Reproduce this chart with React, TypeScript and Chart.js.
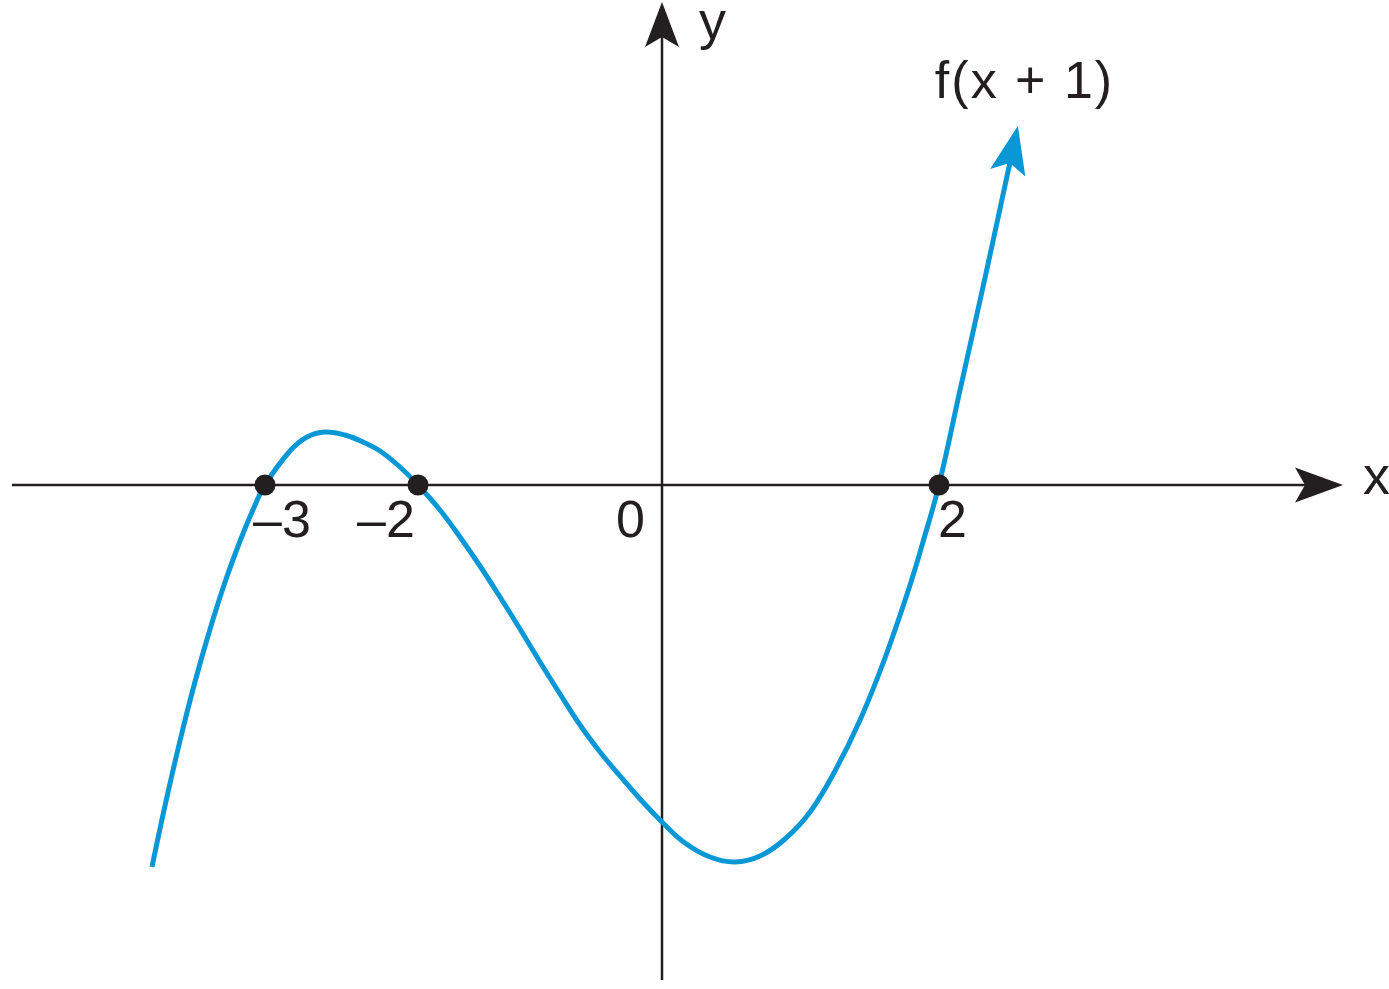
import React, { useEffect, useRef } from 'react';
import { Chart, LinearScale, registerables } from 'chart.js';

// ---------------- data ----------------
const CURVE_X = [
  -3.739, -3.654, -3.556, -3.458, -3.359, -3.261, -3.163, -3.085, -3.0,
  -2.837, -2.725, -2.608, -2.477, -2.346, -2.248, -2.118, -2.0,
  -1.82, -1.656, -1.492, -1.328, -1.164, -1.0, -0.836, -0.672, -0.508, -0.344, -0.18, 0.0,
  0.166, 0.347, 0.527, 0.708, 0.888, 1.069, 1.249, 1.43, 1.61, 1.791, 1.899, 2.0,
  2.152, 2.332, 2.513,
];
const CURVE_Y = [
  -3.82, -3.21, -2.56, -1.97, -1.44, -0.97, -0.56, -0.27, 0,
  0.34, 0.48, 0.53, 0.5, 0.42, 0.34, 0.18, 0,
  -0.25, -0.52, -0.81, -1.12, -1.44, -1.77, -2.09, -2.4, -2.67, -2.91, -3.14, -3.37,
  -3.58, -3.72, -3.77, -3.71, -3.54, -3.27, -2.86, -2.35, -1.73, -1.0, -0.5, 0,
  0.95, 2.07, 3.23,
];
const ROOTS_X = [-3, -2, 2];
const ROOTS_Y = [0, 0, 0];
const TICK_VALUES = [-3, -2, 0, 2];
const TICK_LABELS = ['–3', '–2', '0', '2'];
const CURVE_LABEL = 'f(x + 1)';
const X_AXIS_TITLE = 'x';
const Y_AXIS_TITLE = 'y';
const X_AXIS_EXTENT = [-4.654, 4.917];
const Y_AXIS_EXTENT = [-4.95, 4.83];

// ---------------- scale configuration ----------------
const X_MIN = -4.732;
const X_MAX = 5.249;
const Y_MIN = -5.04;
const Y_MAX = 4.85;
// the sketch is not drawn to a uniform scale: piecewise-linear x mapping
const X_BREAK_VALUES = [X_MIN, -3, -2, 0, 2, X_MAX];
const X_BREAK_FRACTIONS = [0, 0.190785, 0.300936, 0.476602, 0.676026, 1];

// ---------------- styles ----------------
const BLUE = '#0a97d6';
const INK = '#231f20';
const FONT = '"Liberation Sans", Arial, Helvetica, sans-serif';
const TICK_LABEL_DX = [-12, -61, -46, -1];

class WarpScale extends LinearScale {
  static id = 'warp';
  static defaults = {};
  getPixelForValue(value: any) {
    if (value === null || value === undefined || isNaN(value)) return NaN;
    const v = X_BREAK_VALUES;
    const f = X_BREAK_FRACTIONS;
    let i = 0;
    while (i < v.length - 2 && value > v[i + 1]) i++;
    const t = (value - v[i]) / (v[i + 1] - v[i]);
    return this.getPixelForDecimal(f[i] + t * (f[i + 1] - f[i]));
  }
  getValueForPixel(pixel: number) {
    const d = this.getDecimalForPixel(pixel);
    const v = X_BREAK_VALUES;
    const f = X_BREAK_FRACTIONS;
    let i = 0;
    while (i < f.length - 2 && d > f[i + 1]) i++;
    const t = (d - f[i]) / (f[i + 1] - f[i]);
    return v[i] + t * (v[i + 1] - v[i]);
  }
}

Chart.register(...registerables, WarpScale);

function arrowHead(ctx: CanvasRenderingContext2D, tx: number, ty: number, ux: number, uy: number,
  len: number, half: number, notch: number, color: string) {
  const px = -uy, py = ux;
  const bx = tx - ux * len, by = ty - uy * len;
  ctx.beginPath();
  ctx.moveTo(tx, ty);
  ctx.lineTo(bx + px * half, by + py * half);
  ctx.lineTo(tx - ux * notch, ty - uy * notch);
  ctx.lineTo(bx - px * half, by - py * half);
  ctx.closePath();
  ctx.fillStyle = color;
  ctx.fill();
}

function curveTip(chart: any) {
  const meta = chart.getDatasetMeta(1);
  const pts = meta.data;
  const a = pts[pts.length - 2];
  const b = pts[pts.length - 1];
  const dx = b.x - a.x, dy = b.y - a.y;
  const l = Math.hypot(dx, dy);
  const ux = dx / l, uy = dy / l;
  return { x: b.x + ux * 37, y: b.y + uy * 37, ux, uy };
}

const figurePlugin = {
  id: 'figure',
  beforeDatasetsDraw(chart: any) {
    const { ctx, scales } = chart;
    const xs = scales.x, ys = scales.y;
    const x0 = xs.getPixelForValue(0);
    const y0 = ys.getPixelForValue(0);
    const xl = xs.getPixelForValue(X_AXIS_EXTENT[0]);
    const xr = xs.getPixelForValue(X_AXIS_EXTENT[1]);
    const yb = ys.getPixelForValue(Y_AXIS_EXTENT[0]);
    const yt = ys.getPixelForValue(Y_AXIS_EXTENT[1]);
    ctx.save();
    ctx.strokeStyle = INK;
    ctx.lineWidth = 2.5;
    ctx.beginPath();
    ctx.moveTo(xl, y0);
    ctx.lineTo(xr - 30, y0);
    ctx.moveTo(x0, yb);
    ctx.lineTo(x0, yt + 30);
    ctx.stroke();
    arrowHead(ctx, xr, y0, 1, 0, 48, 17.5, 38, INK);
    arrowHead(ctx, x0, yt, 0, -1, 45, 17, 35, INK);
    ctx.restore();
  },
  afterDatasetsDraw(chart: any) {
    const { ctx } = chart;
    const tip = curveTip(chart);
    ctx.save();
    arrowHead(ctx, tip.x, tip.y, tip.ux, tip.uy, 48, 18, 38, BLUE);
    ctx.restore();
  },
  afterDraw(chart: any) {
    const { ctx, scales } = chart;
    const xs = scales.x, ys = scales.y;
    const x0 = xs.getPixelForValue(0);
    const y0 = ys.getPixelForValue(0);
    const xr = xs.getPixelForValue(X_AXIS_EXTENT[1]);
    const yt = ys.getPixelForValue(Y_AXIS_EXTENT[1]);
    ctx.save();
    ctx.fillStyle = INK;
    ctx.textBaseline = 'alphabetic';
    ctx.textAlign = 'left';
    ctx.font = `52px ${FONT}`;
    TICK_VALUES.forEach((v, i) => {
      ctx.fillText(TICK_LABELS[i], xs.getPixelForValue(v) + TICK_LABEL_DX[i], y0 + 52);
    });
    ctx.font = `54px ${FONT}`;
    ctx.fillText(X_AXIS_TITLE, xr + 20, y0 + 9);
    ctx.fillText(Y_AXIS_TITLE, x0 + 37, yt + 37);
    const tip = curveTip(chart);
    ctx.font = `52px ${FONT}`;
    try { (ctx as any).letterSpacing = '2px'; } catch (e) { /* ignore */ }
    ctx.fillText(CURVE_LABEL, tip.x - 83, tip.y - 28);
    ctx.restore();
  },
};

export default function App() {
  const ref = useRef<HTMLCanvasElement>(null);
  useEffect(() => {
    if (!ref.current) return;
    const chart = new Chart(ref.current, {
      type: 'line',
      data: {
        datasets: [
          {
            label: 'roots',
            data: ROOTS_X.map((x, i) => ({ x, y: ROOTS_Y[i] })),
            showLine: false,
            pointRadius: 10.5,
            pointBackgroundColor: INK,
            pointBorderWidth: 0,
            borderColor: INK,
            order: 0,
          },
          {
            label: CURVE_LABEL,
            data: CURVE_X.map((x, i) => ({ x, y: CURVE_Y[i] })),
            borderColor: BLUE,
            borderWidth: 5,
            pointRadius: 0,
            fill: false,
            tension: 0.4,
            borderCapStyle: 'butt',
            order: 1,
          },
        ],
      },
      options: {
        animation: false,
        responsive: false,
        events: [],
        layout: { padding: 0, autoPadding: false },
        plugins: { legend: { display: false }, tooltip: { enabled: false } },
        scales: {
          x: { type: 'warp', min: X_MIN, max: X_MAX, display: false },
          y: { type: 'linear', min: Y_MIN, max: Y_MAX, display: false },
        },
      } as any,
      plugins: [figurePlugin],
    } as any);
    return () => chart.destroy();
  }, []);
  return (
    <canvas
      ref={ref}
      width={1389}
      height={989}
      style={{ position: 'absolute', left: 0, top: 0, display: 'block', background: '#ffffff' }}
    />
  );
}
